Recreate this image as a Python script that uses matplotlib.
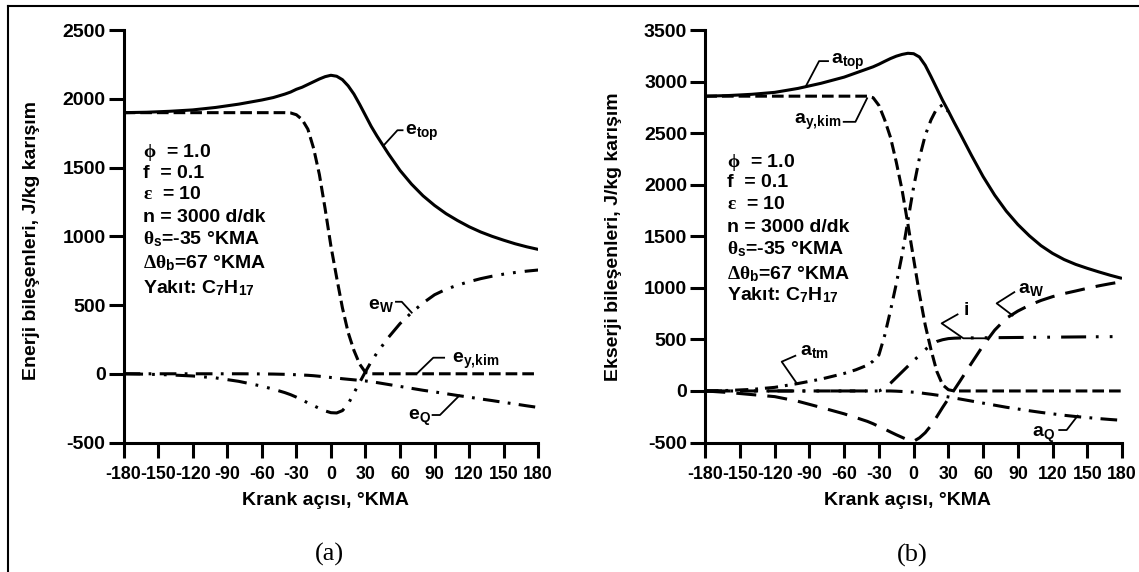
import numpy as np
import matplotlib
matplotlib.use('Agg')
import matplotlib.pyplot as plt
from matplotlib.lines import Line2D

plt.rcParams['font.family'] = ['Liberation Sans', 'DejaVu Sans']
plt.rcParams['font.weight'] = 'bold'
plt.rcParams['mathtext.fontset'] = 'custom'
plt.rcParams['mathtext.rm'] = 'Liberation Serif'
plt.rcParams['mathtext.it'] = 'Liberation Serif'
plt.rcParams['mathtext.bf'] = 'Liberation Sans:bold'
plt.rcParams['mathtext.sf'] = 'Liberation Sans'
plt.rcParams['lines.scale_dashes'] = False
plt.rcParams['axes.unicode_minus'] = False

# ---------------- data ----------------
theta = [-180, -160, -140, -120, -100, -80, -60, -50, -40, -35, -30, -25, -20, -15, -10, -5,
         0, 5, 10, 15, 20, 25, 30, 35, 40, 50, 60, 70, 80, 90, 100, 110, 120, 130, 140, 150, 160, 170, 180]

# (a) energy components, J/kg mixture
e_top = [1900, 1903, 1910, 1920, 1938, 1962, 1992, 2010, 2035, 2050, 2070, 2085, 2105, 2125, 2145, 2162,
         2172, 2165, 2140, 2095, 2035, 1960, 1880, 1800, 1730, 1600, 1480, 1380, 1295, 1225, 1165,
         1115, 1070, 1032, 1000, 972, 946, 924, 905]
e_ykim = [1900, 1900, 1900, 1900, 1900, 1900, 1900, 1900, 1900, 1898, 1885, 1850, 1780, 1640, 1450, 1200,
          930, 700, 480, 300, 170, 70, 10, 0, 0, 0, 0, 0, 0, 0, 0,
          0, 0, 0, 0, 0, 0, 0, 0]
e_W = [0, -3, -8, -16, -30, -55, -90, -112, -137, -152, -170, -190, -212, -232, -252, -270,
       -283, -285, -268, -220, -140, -62, 15, 88, 152, 265, 365, 445, 515, 575, 615,
       645, 670, 692, 710, 725, 737, 747, 755]
e_Q = [0, 0, 0, 0, 0, 0, -1, -2, -4, -5, -7, -9, -11, -14, -18, -22,
       -27, -31, -36, -40, -44, -48, -52, -58, -64, -78, -92, -106, -120, -132, -145,
       -158, -170, -183, -195, -208, -220, -233, -245]

# (b) exergy components, J/kg mixture
a_top = [2860, 2866, 2878, 2897, 2935, 2985, 3045, 3085, 3125, 3145, 3170, 3198, 3225, 3248, 3265, 3276,
         3272, 3240, 3160, 3050, 2935, 2820, 2715, 2605, 2500, 2285, 2080, 1900, 1745, 1615, 1505,
         1410, 1335, 1275, 1228, 1190, 1155, 1122, 1092]
a_ykim = [2860, 2860, 2860, 2860, 2860, 2860, 2860, 2860, 2860, 2845, 2770, 2630, 2460, 2220, 1950, 1620,
          1280, 940, 640, 400, 190, 60, 12, 0, 0, 0, 0, 0, 0, 0, 0,
          0, 0, 0, 0, 0, 0, 0, 0]
nan = np.nan
a_tm = [0, 5, 15, 35, 72, 115, 170, 205, 250, 290, 350, 540, 780, 1040, 1320, 1650,
        1980, 2260, 2480, 2630, 2740, 2775, 2710, nan, nan, nan, nan, nan, nan, nan, nan,
        nan, nan, nan, nan, nan, nan, nan, nan]
a_W = [0, -15, -35, -55, -100, -160, -222, -258, -295, -318, -345, -370, -398, -425, -450, -475,
       -488, -455, -405, -335, -250, -160, -75, 10, 95, 270, 440, 590, 705, 775, 832,
       878, 915, 945, 970, 996, 1020, 1041, 1060]
i_irr = [0, 0, 0, 0, 0, 0, 0, 0, 0, 0, 0, 25, 75, 130, 185, 240,
         295, 345, 400, 450, 480, 497, 508, 512, 514, 515, 516, 517, 518, 519, 520,
         521, 522, 523, 524, 525, 526, 527, 528]
a_Q = [0, 0, 0, 0, 0, 0, 0, 0, 0, 0, 0, 0, 0, -2, -5, -8,
       -12, -17, -25, -32, -40, -49, -58, -68, -78, -98, -118, -138, -158, -175, -192,
       -208, -222, -236, -248, -258, -268, -277, -285]

x_ticks = [-180, -150, -120, -90, -60, -30, 0, 30, 60, 90, 120, 150, 180]
y_ticks_a = [-500, 0, 500, 1000, 1500, 2000, 2500]
y_ticks_b = [-500, 0, 500, 1000, 1500, 2000, 2500, 3000, 3500]

params_lines = [r'$\phi$  = 1.0', 'f  = 0.1', r'$\varepsilon$  = 10', 'n = 3000 d/dk',
                r'$\theta_{\mathbf{s}}$=-35 °KMA', r'$\Delta\theta_{\mathbf{b}}$=67 °KMA',
                r'Yakıt: C$_{\mathbf{7}}$H$_{\mathbf{17}}$']

# ---------------- figure ----------------
W, H = 1139, 572
fig = plt.figure(figsize=(W / 100, H / 100), dpi=100)

axA = fig.add_axes([123.6 / W, 1 - 442.5 / H, (538.2 - 123.6) / W, (442.5 - 30.2) / H])
axB = fig.add_axes([705.3 / W, 1 - 442.5 / H, (1122 - 705.3) / W, (442.5 - 30.2) / H])

LW = 2.2
FS = 14
s_dash = (8.4, 3.6)
s_dashdotdot = (14, 6.5, 2, 6.5, 2, 6.5)
s_dashdot = (12, 6, 2, 6)
s_long = (14.4, 8)
s_tm = (9.5, 5, 2, 5)
s_i = (18, 7, 2, 8, 2, 8)


def style(ax, yticks):
    ax.set_xlim(-180, 180)
    ax.set_ylim(yticks[0], yticks[-1])
    ax.set_xticks(x_ticks)
    ax.set_yticks(yticks)
    for s in ['top', 'right']:
        ax.spines[s].set_visible(False)
    for s in ['left', 'bottom']:
        ax.spines[s].set_linewidth(LW)
    ax.tick_params(direction='out', length=10.5, width=LW)
    ax.tick_params(axis='y', pad=2.5, labelsize=14)
    ax.tick_params(axis='x', pad=6.5, labelsize=12.8)
    ax.patch.set_alpha(0)


def leader(ax, pts):
    xs = [p[0] for p in pts]
    ys = [p[1] for p in pts]
    ax.plot(xs, ys, color='black', lw=1.3, clip_on=False, solid_capstyle='butt')


# ----- panel (a)
ax = axA
ax.plot(theta, e_top, color='black', lw=LW, solid_capstyle='butt')
ax.plot(theta, e_ykim, color='black', lw=LW, dashes=s_dash)
ax.plot(theta, e_W, color='black', lw=LW, dashes=s_dashdotdot)
ax.plot(theta, e_Q, color='black', lw=LW, dashes=s_dashdot)
style(ax, y_ticks_a)

ax.text(64.7, 1735, r'$\mathbf{e_{top}}$', fontsize=FS, ha='left', va='baseline')
leader(ax, [(63.0, 1772), (57.8, 1772), (45.2, 1656)])
ax.text(54.5, 470, r'$\mathbf{e_{W}}$', fontsize=FS, ha='right', va='baseline')
leader(ax, [(55.7, 524), (61.5, 524), (70.7, 440)])
ax.text(104.8, 76, r'$\mathbf{e_{y,\!kim}}$', fontsize=FS, ha='left', va='baseline')
leader(ax, [(99.1, 117), (88.9, 117), (74.5, 0)])
ax.text(86.5, -336, r'$\mathbf{e_{Q}}$', fontsize=FS, ha='right', va='baseline')
leader(ax, [(87.5, -300), (94.7, -300), (112.1, -154)])

ybA = [0.6932, 0.6406, 0.5896, 0.5352, 0.4811, 0.4221, 0.3625]
for s, yb in zip(params_lines, ybA):
    ax.text(0.0475, yb, s, transform=ax.transAxes, fontsize=FS, ha='left', va='baseline')

ax.text(-0.2233, 0.491, 'Enerji bileşenleri, J/kg karışım', transform=ax.transAxes,
        rotation=90, fontsize=FS, ha='center', va='center')
ax.text(0.486, -0.1395, 'Krank açısı, °KMA', transform=ax.transAxes,
        fontsize=FS, ha='center', va='center')

# ----- panel (b)
ax = axB
ax.plot(theta, a_top, color='black', lw=LW, solid_capstyle='butt')
ax.plot(theta, a_ykim, color='black', lw=LW, dashes=s_dash)
ax.plot(theta, a_tm, color='black', lw=LW, dashes=s_tm)
ax.plot(theta, a_W, color='black', lw=LW, dashes=s_long)
ax.plot(theta, i_irr, color='black', lw=LW, dashes=s_i)
ax.plot(theta, a_Q, color='black', lw=LW, dashes=s_dashdot)
style(ax, y_ticks_b)

ax.text(-71.5, 3175, r'$\mathbf{a_{top}}$', fontsize=FS, ha='left', va='baseline')
leader(ax, [(-93.3, 2953), (-81.7, 3200), (-73.2, 3200)])
ax.text(-62.8, 2593, r'$\mathbf{a_{y,\!kim}}$', fontsize=FS, ha='right', va='baseline')
leader(ax, [(-61.2, 2611), (-50.3, 2611), (-39.9, 2847)])
ax.text(-98.2, 349, r'$\mathbf{a_{tm}}$', fontsize=FS, ha='left', va='baseline')
leader(ax, [(-101.5, 345), (-114, 284), (-101, 74)])
ax.text(43, 737, r'$\mathbf{i}$', fontsize=FS, ha='left', va='baseline')
leader(ax, [(38.6, 747), (24.2, 656), (42.9, 511), (63.1, 511)])
ax.text(90.5, 947, r'$\mathbf{a_{W}}$', fontsize=FS, ha='left', va='baseline')
leader(ax, [(87.6, 963), (71.7, 850), (86.1, 727)])
ax.text(122, -444, r'$\mathbf{a_{Q}}$', fontsize=FS, ha='right', va='baseline')
leader(ax, [(125, -379), (132.2, -379), (142.2, -233)])

ybB = [0.6675, 0.619, 0.5656, 0.5098, 0.4572, 0.3958, 0.3456]
for s, yb in zip(params_lines, ybB):
    ax.text(0.0514, yb, s, transform=ax.transAxes, fontsize=FS, ha='left', va='baseline')

ax.text(-0.22, 0.5, 'Ekserji bileşenleri, J/kg karışım', transform=ax.transAxes,
        rotation=90, fontsize=FS, ha='center', va='center')
ax.text(0.485, -0.1395, 'Krank açısı, °KMA', transform=ax.transAxes,
        fontsize=FS, ha='center', va='center')

# captions
fig.text(329 / W, 1 - 554.5 / H, '(a)', family='Liberation Serif', fontweight='normal',
         fontsize=19, ha='center', va='center')
fig.text(912 / W, 1 - 555 / H, '(b)', family='Liberation Serif', fontweight='normal',
         fontsize=19, ha='center', va='center')

# outer frame (top and left edges)
fig.add_artist(Line2D([8.3 / W, 1.0], [1 - 5.7 / H, 1 - 5.7 / H], transform=fig.transFigure,
                      color='black', lw=1.5))
fig.add_artist(Line2D([8.3 / W, 8.3 / W], [0.0, 1 - 5.7 / H], transform=fig.transFigure,
                      color='black', lw=1.5))

fig.savefig('out.png', dpi=100, facecolor='white')
